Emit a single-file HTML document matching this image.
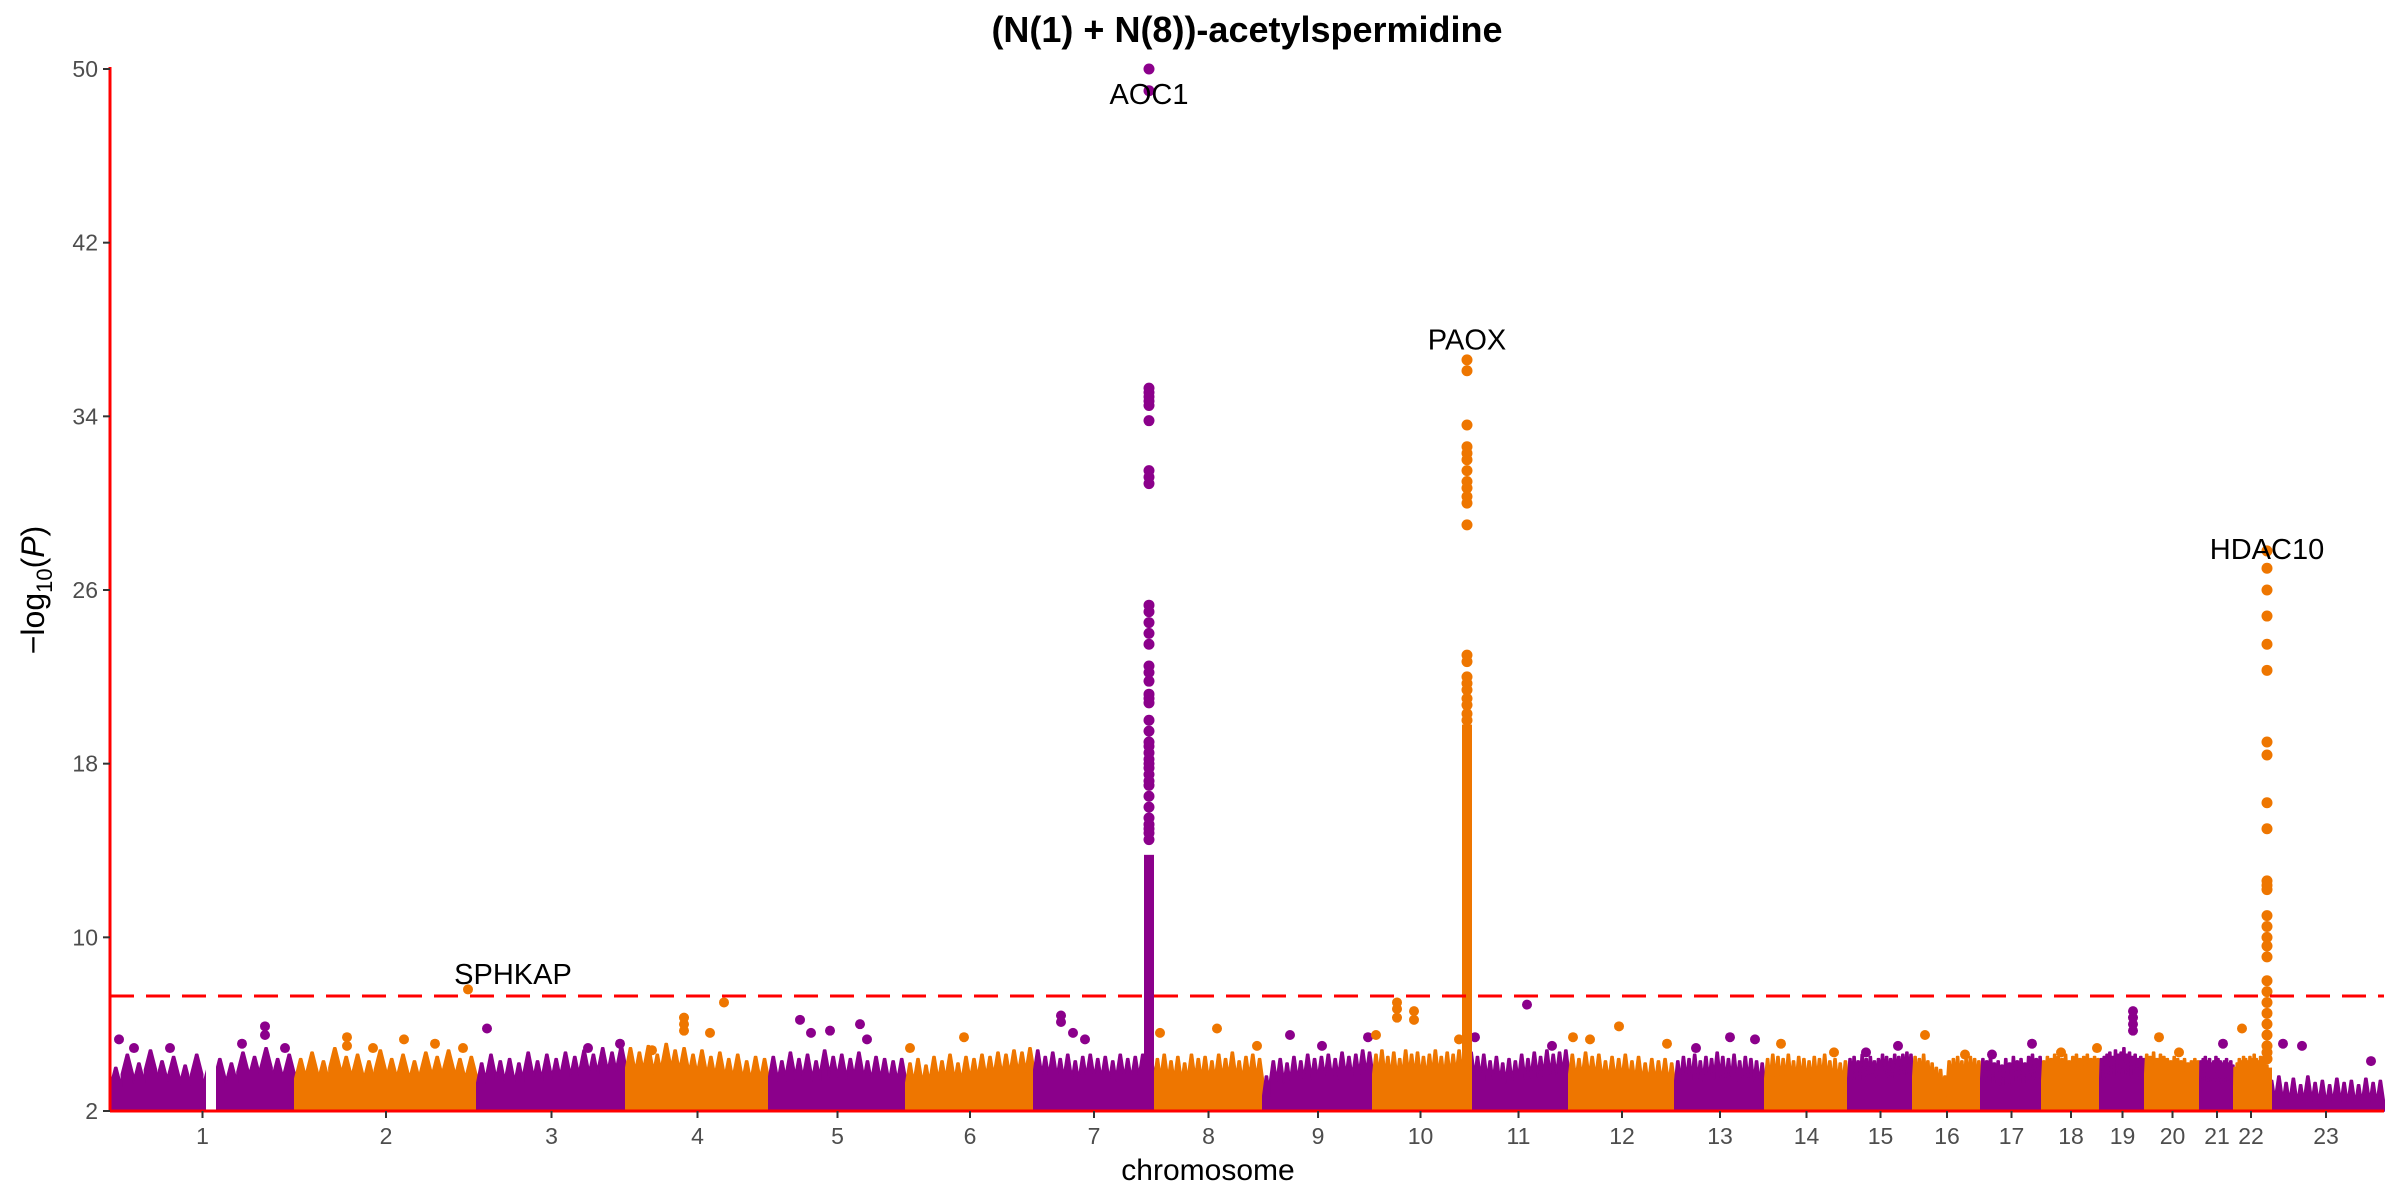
<!DOCTYPE html>
<html><head><meta charset="utf-8"><style>
html,body{margin:0;padding:0;background:#fff;}
svg{display:block;font-family:"Liberation Sans","DejaVu Sans",sans-serif;}
</style></head><body>
<svg id="chart" width="2400" height="1200" viewBox="0 0 2400 1200" xmlns="http://www.w3.org/2000/svg">
<text x="1247" y="42" text-anchor="middle" font-size="36" font-weight="bold" fill="#000">(N(1) + N(8))-acetylspermidine</text>
<text transform="translate(44,590) rotate(-90)" text-anchor="middle" font-size="32" fill="#000">−log<tspan font-size="22" dy="8">10</tspan><tspan dy="-8">(</tspan><tspan font-style="italic">P</tspan>)</text>
<text x="1208" y="1180" text-anchor="middle" font-size="30" fill="#000">chromosome</text>
<g id="bands"></g><g id="pts"></g><g id="axes"></g><g id="labels"></g>
</svg>
<script>
const chrNames = ['1','2','3','4','5','6','7','8','9','10','11','12','13','14','15','16','17','18','19','20','21','22','23'];
const chrLengths = [185,182,149,143,137,128,120,109,110,95,101,106,90,83,65,68,61,58,45,55,34,34,116];
const bandHeights = [
 [4.0,4.6,4.2,4.8,4.3,4.5,4.1,4.6,4.0,4.4,4.2,4.7,4.5,4.9,4.4,4.6],
 [4.4,4.7,4.3,4.9,4.5,4.6,4.3,4.8,4.4,4.6,4.3,4.7,4.5,4.8,4.4,4.5],
 [4.2,4.6,4.3,4.4,4.2,4.7,4.3,4.6,4.4,4.7,4.5,4.8,4.6,4.9,4.7,5.0],
 [4.9,4.7,5.0,4.6,5.1,4.8,4.9,4.6,4.8,4.5,4.7,4.4,4.6,4.3,4.5,4.4],
 [4.5,4.3,4.7,4.4,4.6,4.3,4.8,4.5,4.6,4.4,4.7,4.3,4.5,4.4,4.3,4.4],
 [4.2,4.4,4.1,4.5,4.3,4.6,4.2,4.5,4.4,4.6,4.5,4.7,4.6,4.8,4.7,4.9],
 [4.8,4.5,4.7,4.4,4.6,4.3,4.5,4.6,4.4,4.5,4.3,4.6,4.4,4.5,4.6,4.7],
 [4.4,4.6,4.3,4.5,4.2,4.6,4.4,4.5,4.3,4.6,4.4,4.7,4.3,4.5,4.6,4.4],
 [3.6,4.3,4.4,4.2,4.5,4.3,4.6,4.4,4.5,4.6,4.4,4.7,4.5,4.6,4.8,4.7],
 [4.6,4.8,4.5,4.7,4.4,4.8,4.6,4.7,4.5,4.6,4.8,4.5,4.7,4.6,4.8,4.9],
 [4.7,4.5,4.6,4.3,4.5,4.2,4.4,4.3,4.6,4.4,4.7,4.5,4.8,4.6,4.7,4.8],
 [4.6,4.4,4.7,4.5,4.6,4.3,4.5,4.4,4.6,4.3,4.5,4.2,4.4,4.3,4.4,4.2],
 [4.3,4.5,4.4,4.6,4.3,4.5,4.4,4.7,4.5,4.4,4.6,4.3,4.5,4.4,4.3,4.2],
 [4.4,4.6,4.5,4.4,4.6,4.3,4.5,4.4,4.3,4.5,4.4,4.6,4.3,4.4,4.2,4.3],
 [4.4,4.5,4.3,4.6,4.4,4.5,4.3,4.4,4.6,4.5,4.4,4.6,4.5,4.6,4.7,4.6],
 [4.5,4.4,4.6,4.3,4.2,4.0,3.9,3.6,4.3,4.4,4.5,4.3,4.4,4.5,4.4,4.3],
 [4.4,4.3,4.5,4.2,4.3,4.1,4.4,4.2,4.5,4.3,4.4,4.2,4.5,4.6,4.4,4.5],
 [4.3,4.5,4.4,4.6,4.5,4.4,4.6,4.3,4.5,4.6,4.4,4.5,4.6,4.4,4.5,4.4],
 [4.4,4.5,4.6,4.7,4.5,4.8,4.6,4.7,4.9,4.6,4.7,4.5,4.6,4.4,4.5,4.4],
 [4.6,4.5,4.7,4.4,4.6,4.5,4.4,4.3,4.5,4.4,4.3,4.4,4.2,4.3,4.4,4.3],
 [4.3,4.4,4.5,4.3,4.4,4.2,4.3,4.5,4.4,4.3,4.2,4.3,4.4,4.2,4.3,4.1],
 [4.0,4.2,4.4,4.3,4.5,4.4,4.3,4.5,4.4,4.6,4.4,4.3,4.5,4.3,4.2,4.1],
 [3.4,3.6,3.3,3.5,3.2,3.6,3.3,3.4,3.2,3.5,3.3,3.4,3.2,3.5,3.3,3.4]
];
const scatterChr = [1,1,1,1,1,1,1, 2,2,2,2,2,2,2, 3,3,3, 4,4,4,4,4,4, 5,5,5,5,5, 6,6, 7,7,7,7, 8,8,8, 9,9,9, 10,10,10,10,10,10,10, 11,11,11, 12,12,12,12, 13,13,13, 14,14, 15,15, 16,16, 17,17, 18,18, 19,19,19,19, 20,20, 21, 22, 23,23,23];
const scatterPos = [9,24,60,132,155,155,175, 52,52,78,109,140,168,173, 10,111,143, 26,58,58,58,84,98, 31,42,61,91,98, 4,58, 27,27,39,51, 6,63,103, 27,59,105, 24,24,24,41,41,3,86, 7,59,84, 4,21,50,98, 21,55,80, 16,69, 18,50, 12,52, 11,51, 19,55, 33,33,33,33, 14,34, 23, 8, 15,34,103];
const scatterVal = [5.3,4.9,4.9,5.1,5.9,5.5,4.9, 5.4,5.0,4.9,5.3,5.1,4.9,7.6, 5.8,4.9,5.1, 4.8,6.3,6.0,5.7,5.6,7.0, 6.2,5.6,5.7,6.0,5.3, 4.9,5.4, 6.4,6.1,5.6,5.3, 5.6,5.8,5.0, 5.5,5.0,5.4, 7.0,6.7,6.3,6.6,6.2,5.5,5.3, 5.4,6.9,5.0, 5.4,5.3,5.9,5.1, 4.9,5.4,5.3, 5.1,4.7, 4.7,5.0, 5.5,4.6, 4.6,5.1, 4.7,4.9, 6.6,6.3,6.0,5.7, 5.4,4.7, 5.1, 5.8, 5.1,5.0,4.3];
const peakGenes = ['AOC1','PAOX','HDAC10'];
const peakChr = [7,10,22];
const peakPos = [115,94,33];
const peakDenseTop = [13.8,19.8,4.0];
const aoc1Vals = [50,49,35.3,35.1,34.9,34.7,34.5,33.8,31.5,31.2,30.9,25.3,25,24.5,24,23.5,22.5,22.2,21.8,21.2,21,20.8,20,19.5,19,18.8,18.5,18.2,18,17.8,17.5,17.2,17,16.5,16,15.5,15.2,15,14.8,14.5];
const paoxVals = [36.6,36.1,33.6,32.6,32.3,32,31.5,31,30.7,30.3,30,29,23,22.7,22,21.7,21.4,21,20.7,20.3,20];
const hdacVals = [27.8,27,26,24.8,23.5,22.3,19,18.4,16.2,15,12.6,12.4,12.2,11,10.5,10,9.6,9.1,8,7.5,7,6.5,6,5.5,5,4.7,4.4];
const yTicks = [2,10,18,26,34,42,50];
const threshold = 7.3;

const NS='http://www.w3.org/2000/svg';
const X0=110, Y0=1111, Y1=69, VMIN=2, VMAX=50;
const chrStart=[]; let acc=0; chrLengths.forEach(l=>{chrStart.push(acc);acc+=l;});
const total=acc;
function xs(chr,off){return X0+(chrStart[chr-1]+off)/total*(2384-X0);}
function ys(v){return Y0-(v-VMIN)/(VMAX-VMIN)*(Y0-Y1);}
function col(chr){return chr%2===1?'#8B008B':'#EE7600';}
function mk(tag,attrs,parent){const e=document.createElementNS(NS,tag);for(const k in attrs)e.setAttribute(k,attrs[k]);parent.appendChild(e);return e;}
const gB=document.getElementById('bands'),gP=document.getElementById('pts'),gA=document.getElementById('axes'),gL=document.getElementById('labels');

// bands (jagged: base between spikes)
chrLengths.forEach((len,i)=>{
  const chr=i+1,h=bandHeights[i],n=h.length;let pts=[];
  pts.push(xs(chr,0)+','+ys(VMIN));
  h.forEach((v,j)=>{
    const a=len*j/n, b=len*(j+1)/n, m=(a+b)/2;
    pts.push(xs(chr,a)+','+ys(v-0.9));
    pts.push(xs(chr,m-0.8)+','+ys(v));
    pts.push(xs(chr,m+0.8)+','+ys(v));
    pts.push(xs(chr,b)+','+ys(v-0.9));
  });
  pts.push(xs(chr,len)+','+ys(VMIN));
  const p=mk('polygon',{points:pts.join(' '),fill:col(chr),stroke:col(chr),'stroke-width':2,'stroke-linejoin':'round'},gB);
  
  
});
const gap=mk('rect',{x:xs(1,96),y:ys(5.5),width:xs(1,106)-xs(1,96),height:ys(VMIN)-ys(5.5),fill:'#fff'},gB);



scatterVal.forEach((v,i)=>{
  const c=mk('circle',{cx:xs(scatterChr[i],scatterPos[i]),cy:ys(v),r:5,fill:col(scatterChr[i])},gP);
  
  
});
const peakVals=[aoc1Vals,paoxVals,hdacVals];
peakGenes.forEach((g,k)=>{
  const x=xs(peakChr[k],peakPos[k]),c=col(peakChr[k]);
  const r=mk('rect',{x:x-5,y:ys(peakDenseTop[k]),width:10,height:ys(VMIN)-ys(peakDenseTop[k]),fill:c},gP);
  
  
  peakVals[k].forEach(v=>{
    const d=mk('circle',{cx:x,cy:ys(v),r:5.5,fill:c},gP);
    
    
  });
});
const th=mk('line',{x1:X0,x2:2384,y1:ys(threshold),y2:ys(threshold),stroke:'#FF0000','stroke-width':3,'stroke-dasharray':'24 12'},gA);


const ya=mk('line',{x1:X0,x2:X0,y1:Y1-2,y2:Y0+1,stroke:'#FF0000','stroke-width':3},gA);


const xa=mk('line',{x1:X0,x2:2384,y1:Y0,y2:Y0,stroke:'#FF0000','stroke-width':3},gA);


yTicks.forEach(t=>{
  const l=mk('line',{x1:X0-7,x2:X0,y1:ys(t),y2:ys(t),stroke:'#333','stroke-width':2},gA);
  
  
  const tx=mk('text',{x:X0-12,y:ys(t)+8,'text-anchor':'end','font-size':23,fill:'#4d4d4d'},gA);
  tx.textContent=t;
  
  
});
chrNames.forEach((n,i)=>{
  const x=xs(i+1,chrLengths[i]/2);
  const l=mk('line',{x1:x,x2:x,y1:Y0,y2:Y0+7,stroke:'#333','stroke-width':2},gA);
  
  
  const tx=mk('text',{x:x,y:Y0+33,'text-anchor':'middle','font-size':23,fill:'#4d4d4d'},gA);
  tx.textContent=n;
  
  
});
const labelGenes=['AOC1','PAOX','HDAC10','SPHKAP'];
const labelChr=[7,10,22,2];
const labelPos=[115,94,33,173];
const labelVal=[48.85,37.55,27.9,8.3];
const labelDx=[0,0,0,45];
labelGenes.forEach((g,i)=>{
  const tx=mk('text',{x:xs(labelChr[i],labelPos[i])+labelDx[i],y:ys(labelVal[i])+10,'text-anchor':'middle','font-size':29,fill:'#000'},gL);
  tx.textContent=g;
  
  
});
</script>
</body></html>
